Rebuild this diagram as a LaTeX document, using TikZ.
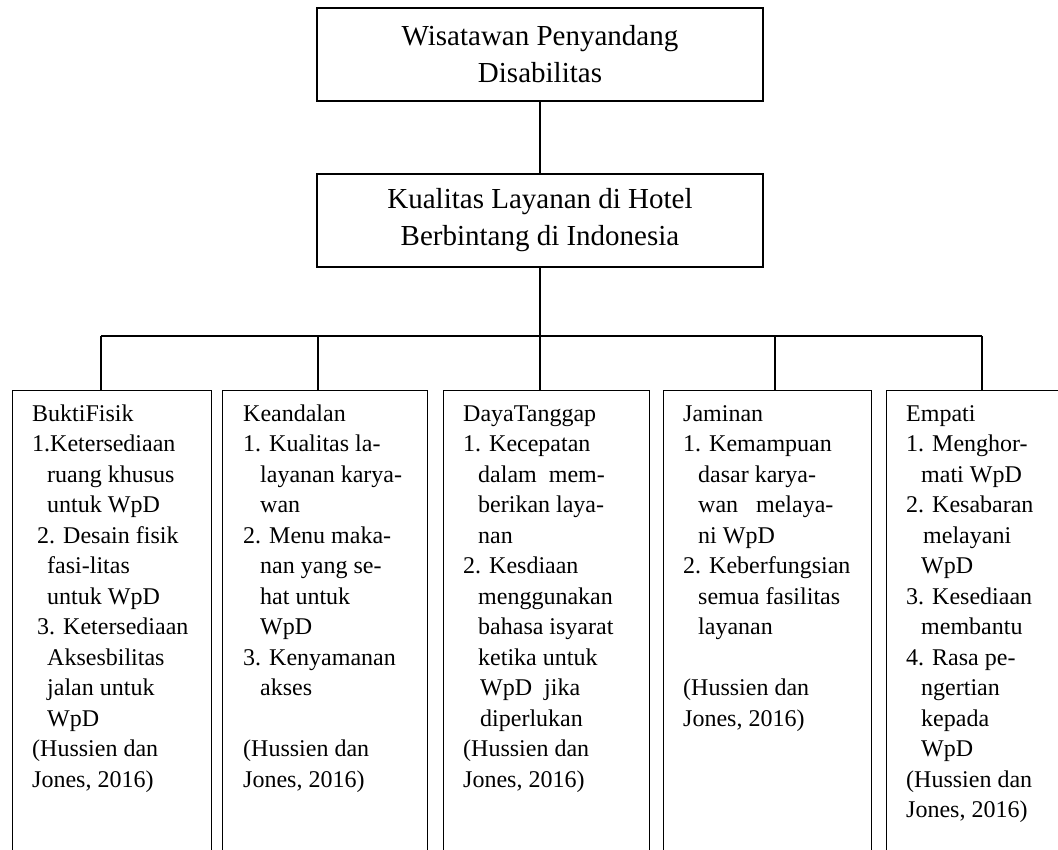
\documentclass[tikz,border=0pt]{standalone}
\usepackage{fontspec}
\setmainfont{Liberation Serif}
\newcommand{\ind}[1]{\hspace*{#1pt}}
\tikzset{
  ln/.style={line width=1.3pt, draw=black},
  mainbox/.style={ln, rectangle, minimum width=446pt, minimum height=93pt, inner sep=0pt,
    align=center, font=\fontsize{29}{37}\selectfont},
  colbox/.style={ln, rectangle, anchor=north west, minimum height=480pt, inner sep=0pt},
  coltext/.style={anchor=north west, inner sep=0pt, align=left, font=\fontsize{24}{30.5}\selectfont},
}
\begin{document}
\begin{tikzpicture}[x=1pt,y=-1pt]
\useasboundingbox (0,0) rectangle (1058,850);
\clip (0,0) rectangle (1058,850);
\fill[white] (0,0) rectangle (1058,850);

\node[mainbox] (top) at (540,54.5) {Wisatawan Penyandang\\Disabilitas};
\node[mainbox] (mid) at (540,220.5) {Kualitas Layanan di Hotel\\Berbintang di Indonesia};

\node[colbox, minimum width=199pt] (b1) at (12,390) {};
\node[colbox, minimum width=205pt] (b2) at (222,390) {};
\node[colbox, minimum width=206pt] (b3) at (443,390) {};
\node[colbox, minimum width=208pt] (b4) at (663,390) {};
\node[colbox, minimum width=200pt] (b5) at (886,390) {};

\coordinate (j1) at (101,336);
\coordinate (j2) at (318,336);
\coordinate (j3) at (540,336);
\coordinate (j4) at (775,336);
\coordinate (j5) at (982,336);

\draw[ln] (top.south) -- (mid.north);
\draw[ln] (mid.south) -- (j3);
\draw[ln, line width=1.5pt] (j1) -- (j5);
\draw[ln] (j1) -- (j1 |- b1.north);
\draw[ln] (j2) -- (j2 |- b2.north);
\draw[ln] (j3) -- (j3 |- b3.north);
\draw[ln] (j4) -- (j4 |- b4.north);
\draw[ln] (j5) -- (j5 |- b5.north);

\node[coltext] (t1) at (32,399.65) {\strut BuktiFisik\\
1.Ketersediaan\\
\ind{15}ruang khusus\\
\ind{15}untuk WpD\\
\ind{5}2. Desain fisik\\
\ind{15}fasi-litas\\
\ind{15}untuk WpD\\
\ind{5}3. Ketersediaan\\
\ind{15}Aksesbilitas\\
\ind{15}jalan untuk\\
\ind{15}WpD\\
(Hussien dan\\
Jones, 2016)};

\node[coltext] (t2) at (243,399.65) {\strut Keandalan\\
1. Kualitas la-\\
\ind{17}layanan karya-\\
\ind{17}wan\\
2. Menu maka-\\
\ind{17}nan yang se-\\
\ind{17}hat untuk\\
\ind{17}WpD\\
3. Kenyamanan\\
\ind{17}akses\\
\mbox{}\\
(Hussien dan\\
Jones, 2016)};

\node[coltext] (t3) at (463,399.65) {\strut DayaTanggap\\
1. Kecepatan\\
\ind{15}dalam\ \ mem-\\
\ind{15}berikan laya-\\
\ind{15}nan\\
2. Kesdiaan\\
\ind{15}menggunakan\\
\ind{15}bahasa isyarat\\
\ind{15}ketika untuk\\
\ind{17}WpD\ \ jika\\
\ind{17}diperlukan\\
(Hussien dan\\
Jones, 2016)};

\node[coltext] (t4) at (683,399.65) {\strut Jaminan\\
1. Kemampuan\\
\ind{15}dasar karya-\\
\ind{15}wan\ \ \ melaya-\\
\ind{15}ni WpD\\
2. Keberfungsian\\
\ind{15}semua fasilitas\\
\ind{15}layanan\\
\mbox{}\\
(Hussien dan\\
Jones, 2016)};

\node[coltext] (t5) at (906,399.65) {\strut Empati\\
1. Menghor-\\
\ind{15}mati WpD\\
2. Kesabaran\\
\ind{17}melayani\\
\ind{15}WpD\\
3. Kesediaan\\
\ind{15}membantu\\
4. Rasa pe-\\
\ind{15}ngertian\\
\ind{15}kepada\\
\ind{15}WpD\\
(Hussien dan\\
Jones, 2016)};
\end{tikzpicture}
\end{document}
